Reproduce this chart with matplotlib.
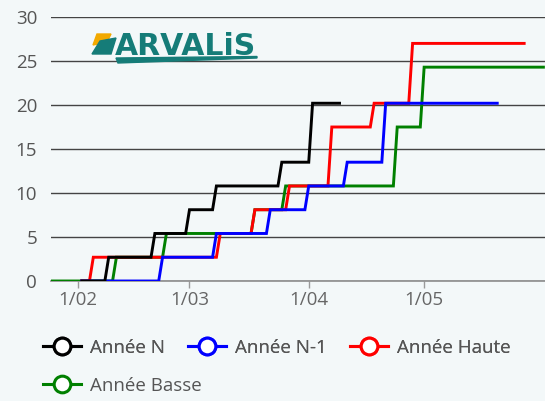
import pandas as pd
import matplotlib.pyplot as plt
from matplotlib.lines import Line2D
from matplotlib.patches import Polygon

plt.rcParams['font.family'] = ['Open Sans', 'DejaVu Sans']

# cumulative values (change dates / new values), each series held daily until its end date
annee_n_dates = ['2024-02-02', '2024-02-09', '2024-02-21', '2024-03-01', '2024-03-08', '2024-03-25', '2024-04-02']
annee_n_values = [0, 2.7, 5.4, 8.1, 10.8, 13.5, 20.2]
annee_n_end = '2024-04-09'

annee_n1_dates = ['2024-02-02', '2024-02-23', '2024-03-08', '2024-03-22', '2024-04-01', '2024-04-11', '2024-04-21']
annee_n1_values = [0, 2.7, 5.4, 8.1, 10.8, 13.5, 20.2]
annee_n1_end = '2024-05-20'

haute_dates = ['2024-02-02', '2024-02-05', '2024-03-09', '2024-03-18', '2024-03-27', '2024-04-07', '2024-04-18', '2024-04-28']
haute_values = [0, 2.7, 5.4, 8.1, 10.8, 17.5, 20.2, 27.0]
haute_end = '2024-05-27'

basse_dates = ['2024-01-25', '2024-02-11', '2024-02-24', '2024-03-18', '2024-03-26', '2024-04-24', '2024-05-01']
basse_values = [0, 2.7, 5.4, 8.1, 10.8, 17.5, 24.3]
basse_end = '2024-06-01'

labels = ['Année N', 'Année N-1', 'Année Haute', 'Année Basse']
colors = ['#000000', '#0000ff', '#ff0000', '#008000']

tick_dates = ['2024-02-01', '2024-03-01', '2024-04-01', '2024-05-01']
tick_labels = ['1/02', '1/03', '1/04', '1/05']


def daily(dates, values, end):
    s = pd.Series(values, index=pd.to_datetime(dates))
    return s.reindex(pd.date_range(s.index[0], end, freq='D')).ffill()


series = [
    daily(annee_n_dates, annee_n_values, annee_n_end),
    daily(annee_n1_dates, annee_n1_values, annee_n1_end),
    daily(haute_dates, haute_values, haute_end),
    daily(basse_dates, basse_values, basse_end),
]

bg = '#f3f8f9'
W, H = 545, 401
fig = plt.figure(figsize=(W / 100, H / 100), dpi=100, facecolor=bg)
ax = fig.add_axes([51 / W, 120 / H, 494 / W, 264 / H])
ax.set_facecolor(bg)

# first series drawn on top
for i, (s, c) in enumerate(zip(series, colors)):
    ax.plot(s.index, s.values, color=c, lw=2.1, zorder=10 - i, solid_joinstyle='miter')

ax.set_ylim(0, 30)
ax.set_yticks(range(0, 31, 5))
ax.set_xlim(pd.Timestamp('2024-01-25'), pd.Timestamp('2024-06-01 10:00'))
ax.set_xticks(pd.to_datetime(tick_dates))
ax.set_xticklabels(tick_labels)

ax.grid(axis='y', color='#444444', lw=1.0)
ax.set_axisbelow(True)
for side in ['top', 'right', 'left']:
    ax.spines[side].set_visible(False)
ax.spines['bottom'].set_color('#8c8c8c')
ax.spines['bottom'].set_linewidth(1.2)

ax.tick_params(axis='y', length=0, pad=10, labelsize=13.5, labelcolor='#555555')
ax.tick_params(axis='x', length=5, width=1, color='#9a9a9a', pad=2, labelsize=13.5, labelcolor='#666666')

# legend
handles = [Line2D([], [], color=c, lw=2.2, marker='o', markersize=12,
                  markerfacecolor='white', markeredgewidth=2.2) for c in colors]
leg_kw = dict(frameon=False, fontsize=13.5, labelcolor='#555555', handlelength=2.0,
              handletextpad=0.5, columnspacing=1.25, borderpad=0, borderaxespad=0, loc='center left')
leg1 = fig.legend(handles[:3], labels[:3], ncol=3, bbox_to_anchor=(43 / W, 1 - 348 / H), **leg_kw)
fig.legend(handles[3:], labels[3:], ncol=1, bbox_to_anchor=(43 / W, 1 - 386 / H), **leg_kw)
fig.add_artist(leg1)


# ARVALIS logo
def px(x, y):
    return (x / W, 1 - y / H)


teal = '#157c78'
fig.patches.append(Polygon([px(97, 34), px(111, 34), px(107, 42), px(93, 45)], closed=True,
                           color='#f2a900', transform=fig.transFigure, figure=fig))
fig.patches.append(Polygon([px(100, 41), px(116, 38), px(111, 54), px(92, 54)], closed=True,
                           color=teal, transform=fig.transFigure, figure=fig))
fig.patches.append(Polygon([px(116, 58), px(257, 56.5), px(257, 58), px(118, 63)], closed=True,
                           color=teal, transform=fig.transFigure, figure=fig))
fig.text(*px(115, 55), 'ARVALiS', color=teal, fontsize=21.5, fontweight='bold',
         family='DejaVu Sans', va='baseline', ha='left')

fig.savefig('out.png', dpi=100, facecolor=bg)
